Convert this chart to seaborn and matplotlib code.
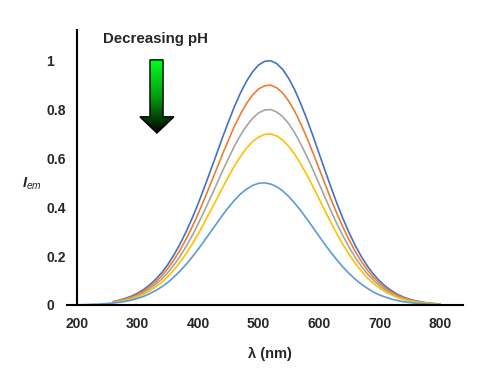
import numpy as np
import pandas as pd
import matplotlib
matplotlib.use("Agg")
import matplotlib.pyplot as plt
import seaborn as sns
from matplotlib.patches import Polygon
from matplotlib.colors import LinearSegmentedColormap

# ---- data ----
wl_full = list(range(200, 810, 10))   # 200 ... 800 nm
wl_part = list(range(260, 810, 10))   # 260 ... 800 nm

s1 = [0.014, 0.020, 0.027, 0.036, 0.048, 0.063, 0.082, 0.105, 0.132, 0.165, 0.204, 0.248,
      0.298, 0.353, 0.413, 0.478, 0.545, 0.613, 0.682, 0.748, 0.811, 0.867, 0.915, 0.954,
      0.982, 0.997, 1.000, 0.988, 0.964, 0.927, 0.880, 0.823, 0.760, 0.692, 0.621, 0.550,
      0.480, 0.413, 0.351, 0.294, 0.243, 0.198, 0.159, 0.126, 0.099, 0.076, 0.058, 0.043,
      0.032, 0.023, 0.017, 0.012, 0.008, 0.006, 0.004]
s2 = [0.013, 0.018, 0.024, 0.032, 0.043, 0.057, 0.074, 0.094, 0.119, 0.149, 0.184, 0.223,
      0.268, 0.318, 0.372, 0.430, 0.491, 0.552, 0.614, 0.673, 0.730, 0.780, 0.824, 0.859,
      0.884, 0.897, 0.900, 0.889, 0.868, 0.834, 0.792, 0.741, 0.684, 0.623, 0.559, 0.495,
      0.432, 0.372, 0.316, 0.265, 0.219, 0.178, 0.143, 0.113, 0.089, 0.068, 0.052, 0.039,
      0.029, 0.021, 0.015, 0.011, 0.007, 0.005, 0.004]
s3 = [0.011, 0.016, 0.022, 0.029, 0.038, 0.050, 0.066, 0.084, 0.106, 0.132, 0.163, 0.198,
      0.238, 0.282, 0.330, 0.382, 0.436, 0.490, 0.546, 0.598, 0.649, 0.694, 0.732, 0.763,
      0.786, 0.798, 0.800, 0.790, 0.771, 0.742, 0.704, 0.658, 0.608, 0.554, 0.497, 0.440,
      0.384, 0.330, 0.281, 0.235, 0.194, 0.158, 0.127, 0.101, 0.079, 0.061, 0.046, 0.034,
      0.026, 0.018, 0.014, 0.010, 0.006, 0.005, 0.003]
s4 = [0.010, 0.014, 0.019, 0.025, 0.034, 0.044, 0.057, 0.074, 0.092, 0.116, 0.143, 0.174,
      0.209, 0.247, 0.289, 0.335, 0.382, 0.429, 0.477, 0.524, 0.568, 0.607, 0.641, 0.668,
      0.687, 0.698, 0.700, 0.692, 0.675, 0.649, 0.616, 0.576, 0.532, 0.484, 0.435, 0.385,
      0.336, 0.289, 0.246, 0.206, 0.170, 0.139, 0.111, 0.088, 0.069, 0.053, 0.041, 0.030,
      0.022, 0.016, 0.012, 0.008, 0.006, 0.004, 0.003]
s5 = [0.001, 0.001, 0.002, 0.003, 0.004, 0.006, 0.008, 0.011, 0.015, 0.020, 0.027, 0.035,
      0.046, 0.059, 0.074, 0.092, 0.114, 0.138, 0.165, 0.195, 0.227, 0.261, 0.296, 0.331,
      0.366, 0.398, 0.428, 0.454, 0.474, 0.489, 0.498, 0.500, 0.495, 0.484, 0.467, 0.444,
      0.416, 0.386, 0.352, 0.317, 0.282, 0.247, 0.214, 0.183, 0.154, 0.128, 0.105, 0.085,
      0.068, 0.053, 0.041, 0.032, 0.024, 0.018, 0.013, 0.010, 0.007, 0.005, 0.003, 0.002,
      0.002]

series_names = ["pH1", "pH2", "pH3", "pH4", "pH5"]
colors = ["#4472C4", "#ED7D31", "#A5A5A5", "#FFC000", "#5B9BD5"]
xticks = [200, 300, 400, 500, 600, 700, 800]
yticks = [0, 0.2, 0.4, 0.6, 0.8, 1]
ytick_labels = ["0", "0.2", "0.4", "0.6", "0.8", "1"]

rows = []
for name, xs, ys in zip(series_names, [wl_part] * 4 + [wl_full], [s1, s2, s3, s4, s5]):
    for x, y in zip(xs, ys):
        rows.append({"wl": x, "I": y, "s": name})
df = pd.DataFrame(rows)

sns.set_theme(style="white")
plt.rcParams["font.family"] = ["Liberation Sans", "DejaVu Sans"]
plt.rcParams["mathtext.fontset"] = "custom"
plt.rcParams["mathtext.bfit"] = "Liberation Sans:bold:italic"
plt.rcParams["mathtext.it"] = "Liberation Sans:italic"
plt.rcParams["mathtext.rm"] = "Liberation Sans"

fig = plt.figure(figsize=(5.0, 3.88), dpi=100)
ax = fig.add_axes([0.154, 0.214, 0.772, 0.709])

sns.lineplot(data=df, x="wl", y="I", hue="s", palette=dict(zip(series_names, colors)),
             linewidth=1.2, legend=False, ax=ax, sort=False)

ax.set_xlim(200, 838)
ax.set_ylim(0, 1.126)
ax.set_xticks(xticks)
ax.set_xticklabels([str(t) for t in xticks], fontsize=10, fontweight="bold")
ax.set_yticks(yticks)
ax.set_yticklabels(ytick_labels, fontsize=10, fontweight="bold", ha="left")
ax.tick_params(axis="x", length=0, pad=9)
ax.tick_params(axis="y", length=0, pad=22)

for side in ["top", "right"]:
    ax.spines[side].set_visible(False)
for side in ["left", "bottom"]:
    ax.spines[side].set_color("black")
    ax.spines[side].set_linewidth(1.5)
ax.spines["bottom"].set_bounds(183, 838)

ax.set_xlabel("λ (nm)", fontsize=10.5, fontweight="bold", labelpad=11)
ax.set_ylabel(r"$\mathbfit{I}_{\mathit{em}}$", fontsize=10.5, rotation=0, va="center")
ax.yaxis.set_label_coords(-0.117, 0.44)

ax.text(0.202, 0.968, "Decreasing pH", transform=ax.transAxes, ha="center", va="center",
        fontsize=10.8, fontweight="bold")

# gradient arrow
pts = [(0.189, 0.891), (0.223, 0.891), (0.223, 0.684), (0.251, 0.684), (0.207, 0.625),
       (0.163, 0.684), (0.189, 0.684)]
poly = Polygon(pts, closed=True, transform=ax.transAxes, facecolor="none",
               edgecolor="black", linewidth=1.0, zorder=5)
ax.add_patch(poly)
cmap = LinearSegmentedColormap.from_list("g", ["#00ff22", "#00a010", "#000000"])
grad = np.linspace(0, 1, 256).reshape(-1, 1)
im = ax.imshow(grad, cmap=cmap, aspect="auto", extent=(0.163, 0.251, 0.625, 0.891),
               transform=ax.transAxes, origin="upper", zorder=4, interpolation="bilinear")
im.set_clip_path(poly)
ax.set_xlim(200, 838)
ax.set_ylim(0, 1.126)

fig.savefig("out.png", dpi=100)
